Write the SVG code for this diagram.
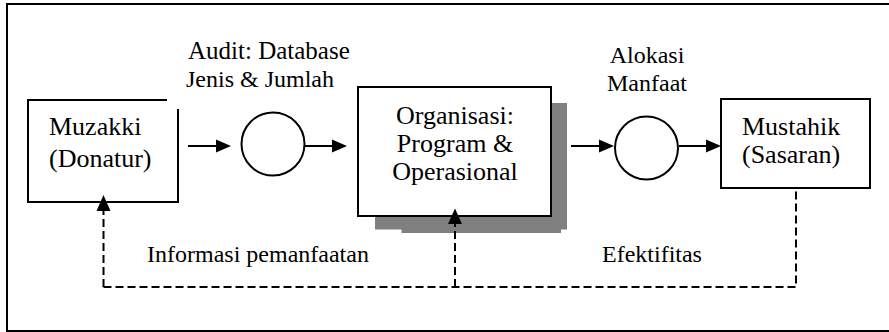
<svg xmlns="http://www.w3.org/2000/svg" width="889" height="332" viewBox="0 0 889 332">
<rect x="0" y="0" width="889" height="332" fill="#fff"/>
<path fill="none" stroke="#000" stroke-width="2" d="M900,4 H7 V331 H900"/>

<g id="muzakki">
<path fill="#fff" stroke="#000" stroke-width="2" d="M167,100 H28 V202 H178 V109"/>
<text x="49" y="135" font-family="Liberation Serif" font-size="26">Muzakki</text>
<text x="49" y="167" font-family="Liberation Serif" font-size="26">(Donatur)</text>
</g>

<g id="audit">
<circle fill="#fff" stroke="#000" stroke-width="2" cx="273" cy="144" r="31.5"/>
</g>

<g id="organisasi">
<path fill="#808080" d="M375,103 H567 V229.5 H561 V233 H401.5 V229.5 H375 Z"/>
<rect fill="#fff" stroke="#000" stroke-width="2" x="358" y="87" width="193" height="129"/>
<text x="455" y="124" font-family="Liberation Serif" font-size="26" text-anchor="middle">Organisasi:</text>
<text x="455" y="152" font-family="Liberation Serif" font-size="26" text-anchor="middle">Program &amp;</text>
<text x="455" y="180" font-family="Liberation Serif" font-size="26" text-anchor="middle">Operasional</text>
</g>

<g id="alokasi">
<circle fill="#fff" stroke="#000" stroke-width="2" cx="646.5" cy="148" r="31.5"/>
</g>

<g id="mustahik">
<rect fill="#fff" stroke="#000" stroke-width="2" x="721" y="99" width="149" height="89"/>
<text x="742" y="135" font-family="Liberation Serif" font-size="26">Mustahik</text>
<text x="742" y="163" font-family="Liberation Serif" font-size="26">(Sasaran)</text>
</g>

<g id="labels">
<text x="188" y="59" font-family="Liberation Serif" font-size="25">Audit: Database</text>
<text x="186" y="87" font-family="Liberation Serif" font-size="24">Jenis &amp; Jumlah</text>
<text x="647" y="63" font-family="Liberation Serif" font-size="24" text-anchor="middle">Alokasi</text>
<text x="647" y="91" font-family="Liberation Serif" font-size="24" text-anchor="middle">Manfaat</text>
<text x="147" y="262" font-family="Liberation Serif" font-size="24">Informasi pemanfaatan</text>
<text x="602" y="262" font-family="Liberation Serif" font-size="24">Efektifitas</text>
</g>

<g id="connectors" fill="none" stroke="#000" stroke-width="2">
<path d="M188,146 H218"/>
<polygon fill="#000" stroke="none" points="216,139.5 231,146 216,152.5"/>
<path d="M305,146 H334"/>
<polygon fill="#000" stroke="none" points="332,139.5 347,146 332,152.5"/>
<path d="M571,146 H601"/>
<polygon fill="#000" stroke="none" points="599,139.5 614,146 599,152.5"/>
<path d="M679,146 H708"/>
<polygon fill="#000" stroke="none" points="706,139.5 721,146 706,152.5"/>
<path stroke-dasharray="8 4" d="M103.5,287 H796 V188"/>
<path stroke-dasharray="8 4" d="M103.5,287 V208"/>
<polygon fill="#000" stroke="none" points="96.5,211 103.5,195 110.5,211"/>
<path stroke-dasharray="8 4" d="M455,287 V222"/>
<polygon fill="#000" stroke="none" points="448,224 455,208.5 462,224"/>
</g>
</svg>
